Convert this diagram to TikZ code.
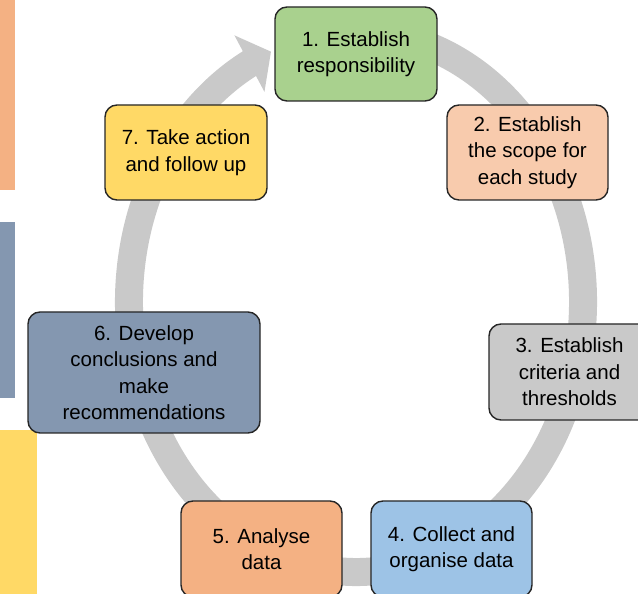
\documentclass[tikz,border=0pt]{standalone}
\usepackage{fontspec}
\setmainfont{Liberation Sans}
\usetikzlibrary{calc}
\definecolor{ringgray}{HTML}{C9C9C9}
\definecolor{stgreen}{HTML}{A9D18E}
\definecolor{stpeach}{HTML}{F8CBAD}
\definecolor{stgray}{HTML}{C9C9C9}
\definecolor{stblue}{HTML}{9DC3E6}
\definecolor{storange}{HTML}{F4B183}
\definecolor{stslate}{HTML}{8497B0}
\definecolor{styellow}{HTML}{FFD966}
\definecolor{edge}{HTML}{262626}
\begin{document}
\begin{tikzpicture}[x=1pt,y=1pt,
  stage/.style={draw=edge, line width=1.4pt, rounded corners=12pt, align=center,
    inner sep=0pt, minimum width=161pt, minimum height=95pt,
    font=\fontsize{20.5}{26.5}\selectfont}]
\useasboundingbox (0,0) rectangle (638,594);
\clip (0,0) rectangle (638,594);
% strips at the left edge
\fill[storange] (0,404) rectangle (15,594);
\fill[stslate] (0,196) rectangle (15,372);
\fill[styellow] (0,0) rectangle (37,164);
% the ring with its head
\coordinate (ring) at (356,292);
\fill[ringgray] ($(ring)+(80:241 and 284)$)
  arc[start angle=80, end angle=-242, x radius=241, y radius=284]
  -- ($(ring)+(118:259 and 302)$) -- ($(ring)+(112:227 and 270)$)
  -- ($(ring)+(118:195 and 238)$) -- ($(ring)+(118:213 and 256)$)
  arc[start angle=-242, end angle=80, x radius=213, y radius=256] -- cycle;
% the seven stages
\node[stage, fill=stgreen, minimum width=162pt, minimum height=94pt] (s1) at (356,540) {1. Establish\\responsibility};
\node[stage, fill=stpeach] (s2) at (527.5,441.5) {2. Establish\\the scope for\\each study};
\node[stage, fill=stgray, minimum height=96pt] (s3) at (569.5,222) {3. Establish\\criteria and\\thresholds};
\node[stage, fill=stblue, minimum height=96pt] (s4) at (451.5,45) {4. Collect and\\organise data};
\node[stage, fill=storange, minimum height=96pt] (s5) at (261.5,45) {5. Analyse\\data};
\node[stage, fill=stslate, minimum width=232pt, minimum height=121pt] (s6) at (144,221.5) {6. Develop\\conclusions and\\make\\recommendations};
\node[stage, fill=styellow, minimum width=162pt] (s7) at (186,441.5) {7. Take action\\and follow up};
\end{tikzpicture}
\end{document}
